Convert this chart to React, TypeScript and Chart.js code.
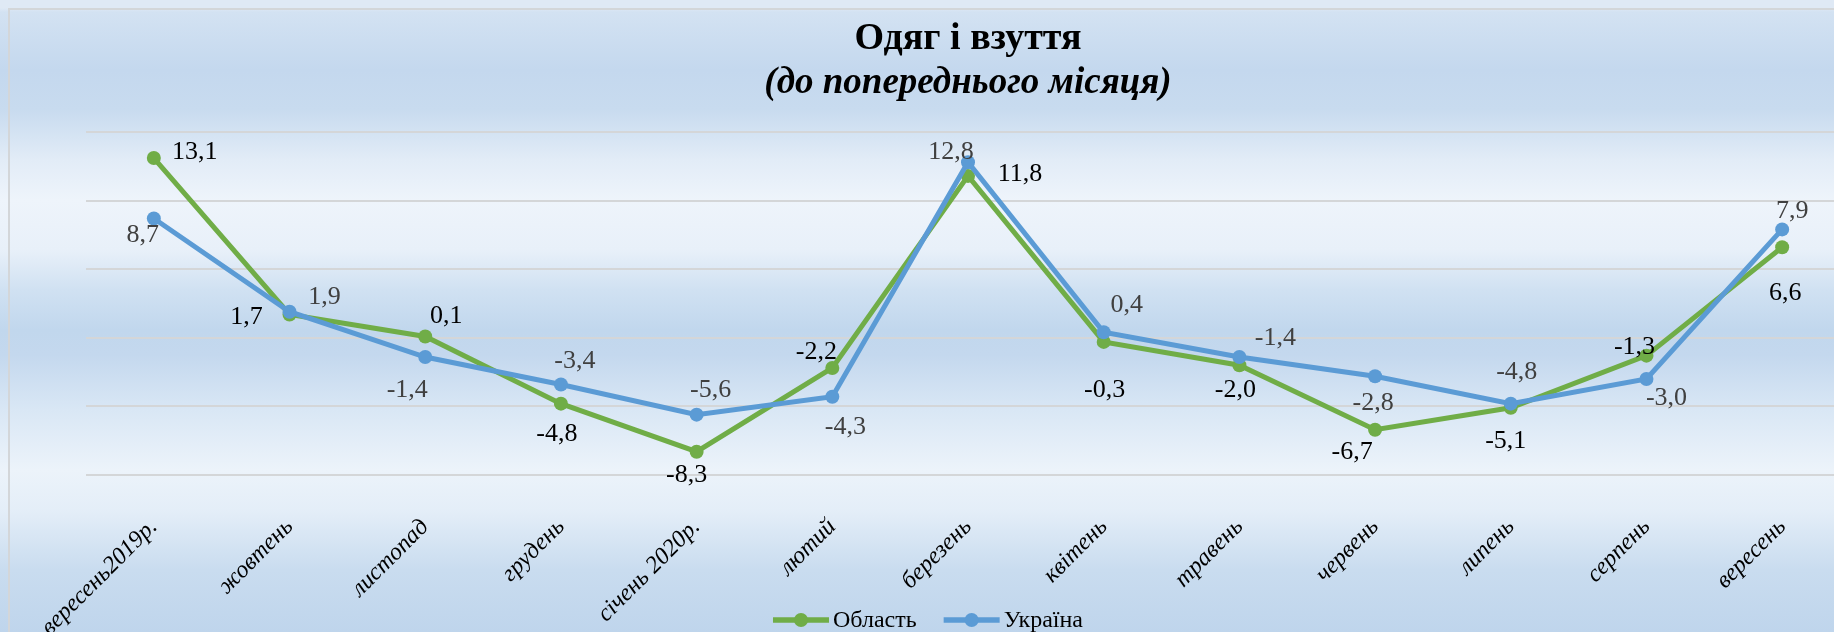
import React, { useEffect, useRef } from 'react';
import { Chart, registerables } from 'chart.js';

Chart.register(...registerables);

// ---- data ----
const categories = [
  'вересень2019р.', 'жовтень', 'листопад', 'грудень', 'січень 2020р.', 'лютий',
  'березень', 'квітень', 'травень', 'червень', 'липень', 'серпень', 'вересень',
];
const oblastValues = [13.1, 1.7, 0.1, -4.8, -8.3, -2.2, 11.8, -0.3, -2.0, -6.7, -5.1, -1.3, 6.6];
const ukraineValues = [8.7, 1.9, -1.4, -3.4, -5.6, -4.3, 12.8, 0.4, -1.4, -2.8, -4.8, -3.0, 7.9];
const seriesNames = ['Область', 'Україна'];
const yMin = -10;
const yMax = 15;
const yStep = 5;
const titleText = 'Одяг і взуття';
const subtitleText = '(до попереднього місяця)';

// ---- styling (label placement offsets, px) ----
const oblastLabelOffsets = [
  [41, -6], [-43, 3], [21, -20], [-4, 31], [-10, 23], [-16, -16], [52, -2],
  [1, 48], [-4, 25], [-23, 22], [-5, 33], [-12, -8], [3, 46],
];
const ukraineLabelOffsets = [
  [-11, 17], [35, -15], [-18, 33], [14, -23], [14, -24], [13, 30], [-17, -10],
  [23, -27], [36, -19], [-2, 27], [6, -31], [20, 19], [10, -18],
];
const GREEN = '#70ad47';
const BLUE = '#5b9bd5';
const FONT = "'Liberation Serif', 'Times New Roman', serif";
const CANVAS_W = 1940;
const CANVAS_H = 632;

const fmt = (v: number) => v.toFixed(1).replace('.', ',');

const labelPlugin = {
  id: 'valueLabels',
  afterDatasetsDraw(chart: any) {
    const ctx = chart.ctx;
    const cfg = [
      { offsets: oblastLabelOffsets, color: '#000000' },
      { offsets: ukraineLabelOffsets, color: '#404040' },
    ];
    ctx.save();
    ctx.font = `26px ${FONT}`;
    ctx.textAlign = 'center';
    ctx.textBaseline = 'middle';
    chart.data.datasets.forEach((ds: any, i: number) => {
      const meta = chart.getDatasetMeta(i);
      ctx.fillStyle = cfg[i].color;
      meta.data.forEach((pt: any, j: number) => {
        const [dx, dy] = cfg[i].offsets[j];
        ctx.fillText(fmt(ds.data[j]), pt.x + dx, pt.y + dy);
      });
    });
    ctx.restore();
  },
};

const customLegend = {
  id: 'customLegend',
  afterDraw(chart: any) {
    const ctx = chart.ctx;
    const area = chart.chartArea;
    ctx.save();
    ctx.font = `24px ${FONT}`;
    ctx.textBaseline = 'middle';
    ctx.textAlign = 'left';
    const lineW = 56;
    const gapText = 4;
    const gapItems = 27;
    const items = chart.data.datasets.map((ds: any) => ({
      text: ds.label,
      color: ds.borderColor,
      w: lineW + gapText + ctx.measureText(ds.label).width,
    }));
    const total = items.reduce((s: number, it: any) => s + it.w, 0) + gapItems * (items.length - 1);
    const center = (area.left + area.right) / 2 - 40;
    let x = center - total / 2;
    const y = 620;
    items.forEach((it: any) => {
      ctx.strokeStyle = it.color;
      ctx.lineWidth = 5.5;
      ctx.beginPath();
      ctx.moveTo(x, y);
      ctx.lineTo(x + lineW, y);
      ctx.stroke();
      ctx.fillStyle = it.color;
      ctx.beginPath();
      ctx.arc(x + lineW / 2, y, 7, 0, Math.PI * 2);
      ctx.fill();
      ctx.fillStyle = '#000000';
      ctx.fillText(it.text, x + lineW + gapText, y + 1);
      x += it.w + gapItems;
    });
    ctx.restore();
  },
};

export default function App() {
  const ref = useRef<HTMLCanvasElement>(null);

  useEffect(() => {
    if (!ref.current) return;
    const chart = new Chart(ref.current, {
      type: 'line',
      data: {
        labels: categories,
        datasets: [
          {
            label: seriesNames[0],
            data: oblastValues,
            borderColor: GREEN,
            backgroundColor: GREEN,
            pointBackgroundColor: GREEN,
            pointBorderColor: GREEN,
            borderWidth: 5,
            pointRadius: 7,
            pointBorderWidth: 0,
            tension: 0,
            order: 2,
          },
          {
            label: seriesNames[1],
            data: ukraineValues,
            borderColor: BLUE,
            backgroundColor: BLUE,
            pointBackgroundColor: BLUE,
            pointBorderColor: BLUE,
            borderWidth: 5,
            pointRadius: 7,
            pointBorderWidth: 0,
            tension: 0,
            order: 1,
          },
        ],
      },
      options: {
        responsive: false,
        animation: false,
        devicePixelRatio: 1,
        layout: { padding: { left: 86, right: 90, top: 0, bottom: 0 } },
        plugins: {
          legend: { display: false },
          tooltip: { enabled: false },
          title: {
            display: true,
            text: titleText,
            color: '#000000',
            font: { family: FONT, size: 38, weight: 'bold', lineHeight: 1.2 },
            padding: { top: 16, bottom: 0 },
          },
          subtitle: {
            display: true,
            text: subtitleText,
            color: '#000000',
            font: { family: FONT, size: 37, weight: 'bold', style: 'italic', lineHeight: 1.2 },
            padding: { top: 0, bottom: 26 },
          },
        },
        scales: {
          x: {
            offset: true,
            grid: { display: false, drawTicks: false },
            border: { display: false },
            ticks: {
              autoSkip: false,
              maxRotation: 45,
              minRotation: 45,
              padding: 38,
              color: '#000000',
              font: { family: FONT, size: 24, style: 'italic' },
            },
            afterFit: (s: any) => { s.height = CANVAS_H - 475; },
          },
          y: {
            min: yMin,
            max: yMax,
            ticks: { display: false, stepSize: yStep },
            grid: { color: '#d4d6d8', lineWidth: 2, drawTicks: false },
            border: { display: false },
            afterFit: (s: any) => { s.width = 0; },
          },
        },
      },
      plugins: [labelPlugin, customLegend],
    });
    return () => chart.destroy();
  }, []);

  const bg = 'linear-gradient(to bottom, #dfe9f5 0px, #dfe9f5 8px, #d3e2f2 12px, #c4d8ee 70px, #c8dbef 110px, #e2ecf7 160px, #eef4fb 200px, #e8f0f9 250px, #d0e1f2 290px, #c1d7ed 330px, #c4d8ee 355px, #d9e7f5 410px, #ecf3fa 470px, #e4eef8 510px, #c9dcef 570px, #bfd5ec 632px)';

  return (
    <div style={{ position: 'absolute', left: 0, top: 0, width: 1834, height: 632, overflow: 'hidden', background: bg }}>
      <div style={{ position: 'absolute', left: 8, top: 8, width: 3000, height: 3000, borderLeft: '2px solid #d3d6d9', borderTop: '2px solid #d3d6d9', boxSizing: 'border-box' }} />
      <canvas ref={ref} width={CANVAS_W} height={CANVAS_H} style={{ position: 'absolute', left: 0, top: 0, width: CANVAS_W, height: CANVAS_H, display: 'block' }} />
    </div>
  );
}
